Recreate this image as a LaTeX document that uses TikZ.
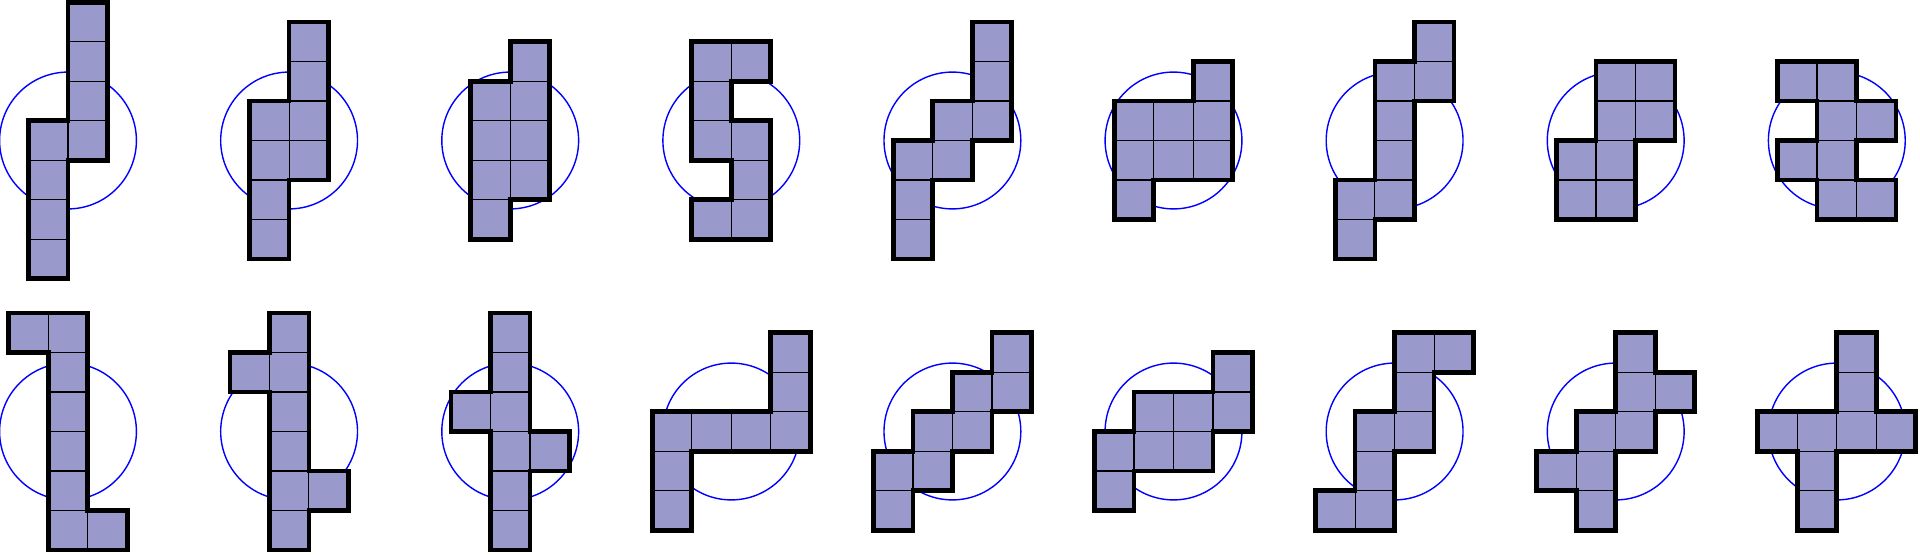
\documentclass[tikz,border=0pt]{standalone}
\usetikzlibrary{calc}
\definecolor{cellfill}{RGB}{153,153,204}
\newlength{\cellsz}
\setlength{\cellsz}{19.75pt}
\tikzset{
  symcircle/.style={draw=blue, line width=0.7pt},
  cellsty/.style={fill=cellfill, draw=black, line width=0.6pt},
  outlinesty/.style={draw=black, line width=2.35pt, line join=miter},
}
\newcommand\octo[4]{%
  \begin{scope}[shift={(#1,#2)}, x=\cellsz, y=-\cellsz]
    \draw[symcircle] (0,0) circle[radius=1.732];
    \foreach \a/\b in {#3} {\path[cellsty] (\a,\b) rectangle ++(1,1);}
    \path[outlinesty] #4 -- cycle;
  \end{scope}}
\begin{document}
\begin{tikzpicture}[x=0.5pt, y=-0.5pt]
\useasboundingbox[fill=white] (0,0) rectangle (1920,555);
% row 1
\octo{68}{140.5}{0/-3.5,0/-2.5,0/-1.5,0/-0.5,-1/-0.5,-1/0.5,-1/1.5,-1/2.5}
  {(0,-3.5) -- (1,-3.5) -- (1,0.5) -- (0,0.5) -- (0,3.5) -- (-1,3.5) -- (-1,-0.5) -- (0,-0.5)}
\octo{289.1}{140.5}{0/-3,0/-2,0/-1,0/0,-1/-1,-1/0,-1/1,-1/2}
  {(0,-3) -- (1,-3) -- (1,1) -- (0,1) -- (0,3) -- (-1,3) -- (-1,-1) -- (0,-1)}
\octo{510.2}{140.5}{0/-2.5,0/-1.5,0/-0.5,0/0.5,-1/-1.5,-1/-0.5,-1/0.5,-1/1.5}
  {(0,-2.5) -- (1,-2.5) -- (1,1.5) -- (0,1.5) -- (0,2.5) -- (-1,2.5) -- (-1,-1.5) -- (0,-1.5)}
\octo{731.3}{140.5}{-1/-2.5,0/-2.5,-1/-1.5,-1/-0.5,0/-0.5,0/0.5,-1/1.5,0/1.5}
  {(-1,-2.5) -- (1,-2.5) -- (1,-1.5) -- (0,-1.5) -- (0,-0.5) -- (1,-0.5) -- (1,2.5) -- (-1,2.5) -- (-1,1.5) -- (0,1.5) -- (0,0.5) -- (-1,0.5)}
\octo{952.4}{140.5}{0.5/-3,0.5/-2,0.5/-1,-0.5/-1,-0.5/0,-1.5/0,-1.5/1,-1.5/2}
  {(0.5,-3) -- (1.5,-3) -- (1.5,0) -- (0.5,0) -- (0.5,1) -- (-0.5,1) -- (-0.5,3) -- (-1.5,3) -- (-1.5,0) -- (-0.5,0) -- (-0.5,-1) -- (0.5,-1)}
\octo{1173.5}{140.5}{0.5/-2,-1.5/-1,-0.5/-1,0.5/-1,-1.5/0,-0.5/0,0.5/0,-1.5/1}
  {(0.5,-2) -- (1.5,-2) -- (1.5,1) -- (-0.5,1) -- (-0.5,2) -- (-1.5,2) -- (-1.5,-1) -- (0.5,-1)}
\octo{1394.6}{140.5}{0.5/-3,0.5/-2,-0.5/-2,-0.5/-1,-0.5/0,-0.5/1,-1.5/1,-1.5/2}
  {(0.5,-3) -- (1.5,-3) -- (1.5,-1) -- (0.5,-1) -- (0.5,2) -- (-0.5,2) -- (-0.5,3) -- (-1.5,3) -- (-1.5,1) -- (-0.5,1) -- (-0.5,-2) -- (0.5,-2)}
\octo{1615.7}{140.5}{-0.5/-2,0.5/-2,-0.5/-1,0.5/-1,-1.5/0,-0.5/0,-1.5/1,-0.5/1}
  {(-0.5,-2) -- (1.5,-2) -- (1.5,0) -- (0.5,0) -- (0.5,2) -- (-1.5,2) -- (-1.5,0) -- (-0.5,0)}
\octo{1836.8}{140.5}{-1.5/-2,-0.5/-2,-0.5/-1,0.5/-1,-1.5/0,-0.5/0,-0.5/1,0.5/1}
  {(-1.5,-2) -- (0.5,-2) -- (0.5,-1) -- (1.5,-1) -- (1.5,0) -- (0.5,0) -- (0.5,1) -- (1.5,1) -- (1.5,2) -- (-0.5,2) -- (-0.5,1) -- (-1.5,1) -- (-1.5,0) -- (-0.5,0) -- (-0.5,-1) -- (-1.5,-1)}
% row 2
\octo{68}{431.5}{-1.5/-3,-0.5/-3,-0.5/-2,-0.5/-1,-0.5/0,-0.5/1,-0.5/2,0.5/2}
  {(-1.5,-3) -- (0.5,-3) -- (0.5,2) -- (1.5,2) -- (1.5,3) -- (-0.5,3) -- (-0.5,-2) -- (-1.5,-2)}
\octo{289.1}{431.5}{-0.5/-3,-0.5/-2,-0.5/-1,-0.5/0,-0.5/1,-0.5/2,-1.5/-2,0.5/1}
  {(-0.5,-3) -- (0.5,-3) -- (0.5,1) -- (1.5,1) -- (1.5,2) -- (0.5,2) -- (0.5,3) -- (-0.5,3) -- (-0.5,-1) -- (-1.5,-1) -- (-1.5,-2) -- (-0.5,-2)}
\octo{510.2}{431.5}{-0.5/-3,-0.5/-2,-0.5/-1,-0.5/0,-0.5/1,-0.5/2,-1.5/-1,0.5/0}
  {(-0.5,-3) -- (0.5,-3) -- (0.5,0) -- (1.5,0) -- (1.5,1) -- (0.5,1) -- (0.5,3) -- (-0.5,3) -- (-0.5,0) -- (-1.5,0) -- (-1.5,-1) -- (-0.5,-1)}
\octo{731.3}{431.5}{1/-2.5,1/-1.5,1/-0.5,0/-0.5,-1/-0.5,-2/-0.5,-2/0.5,-2/1.5}
  {(1,-2.5) -- (2,-2.5) -- (2,0.5) -- (-1,0.5) -- (-1,2.5) -- (-2,2.5) -- (-2,-0.5) -- (1,-0.5)}
\octo{952.4}{431.5}{1/-2.5,1/-1.5,0/-1.5,0/-0.5,-1/-0.5,-1/0.5,-2/0.5,-2/1.5}
  {(1,-2.5) -- (2,-2.5) -- (2,-0.5) -- (1,-0.5) -- (1,0.5) -- (0,0.5) -- (0,1.5) -- (-1,1.5) -- (-1,2.5) -- (-2,2.5) -- (-2,0.5) -- (-1,0.5) -- (-1,-0.5) -- (0,-0.5) -- (0,-1.5) -- (1,-1.5)}
\octo{1173.5}{431.5}{1/-2,-1/-1,0/-1,1/-1,-2/0,-1/0,0/0,-2/1}
  {(1,-2) -- (2,-2) -- (2,0) -- (1,0) -- (1,1) -- (-1,1) -- (-1,2) -- (-2,2) -- (-2,0) -- (-1,0) -- (-1,-1) -- (1,-1)}
\octo{1394.6}{431.5}{0/-2.5,1/-2.5,0/-1.5,-1/-0.5,0/-0.5,-1/0.5,-2/1.5,-1/1.5}
  {(0,-2.5) -- (2,-2.5) -- (2,-1.5) -- (1,-1.5) -- (1,0.5) -- (0,0.5) -- (0,2.5) -- (-2,2.5) -- (-2,1.5) -- (-1,1.5) -- (-1,-0.5) -- (0,-0.5)}
\octo{1615.7}{431.5}{0/-2.5,0/-1.5,1/-1.5,-1/-0.5,0/-0.5,-2/0.5,-1/0.5,-1/1.5}
  {(0,-2.5) -- (1,-2.5) -- (1,-1.5) -- (2,-1.5) -- (2,-0.5) -- (1,-0.5) -- (1,0.5) -- (0,0.5) -- (0,2.5) -- (-1,2.5) -- (-1,1.5) -- (-2,1.5) -- (-2,0.5) -- (-1,0.5) -- (-1,-0.5) -- (0,-0.5)}
\octo{1836.8}{431.5}{0/-2.5,0/-1.5,-2/-0.5,-1/-0.5,0/-0.5,1/-0.5,-1/0.5,-1/1.5}
  {(0,-2.5) -- (1,-2.5) -- (1,-0.5) -- (2,-0.5) -- (2,0.5) -- (0,0.5) -- (0,2.5) -- (-1,2.5) -- (-1,0.5) -- (-2,0.5) -- (-2,-0.5) -- (0,-0.5)}
\end{tikzpicture}
\end{document}
